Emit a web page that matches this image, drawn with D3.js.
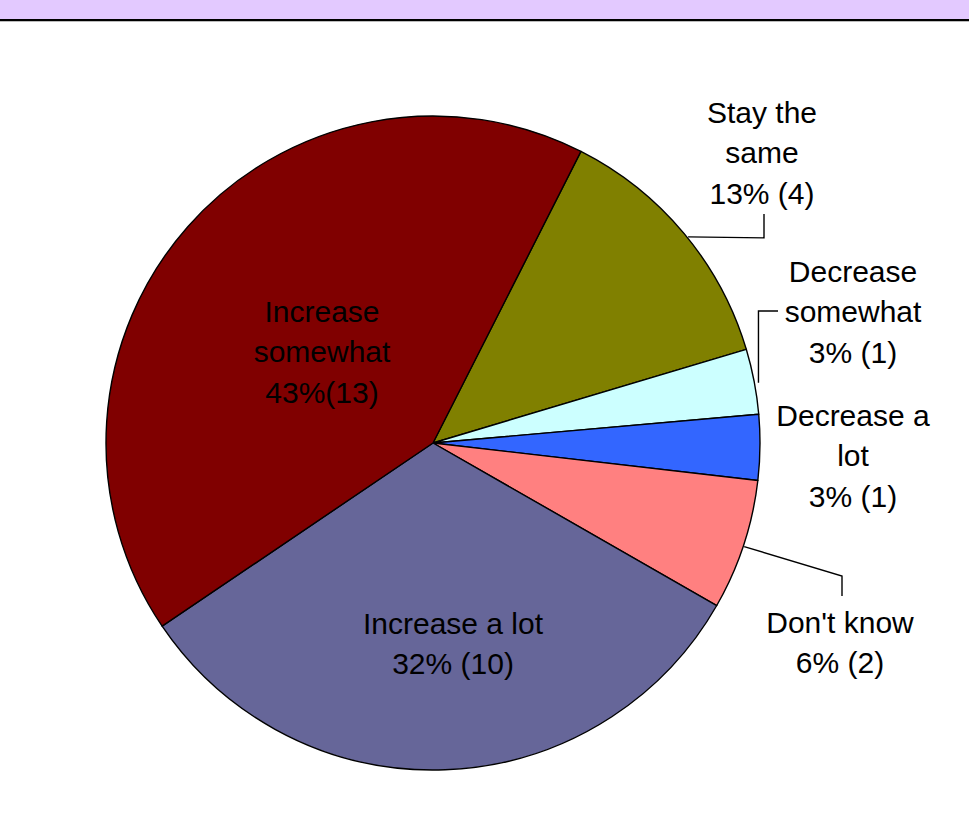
<!DOCTYPE html>
<html><head><meta charset="utf-8">
<script src="https://cdn.jsdelivr.net/npm/d3@7"></script>
<style>html,body{margin:0;padding:0;background:#fff;} svg{display:block;}</style>
</head><body>
<script>
// Data
const categories = ["Stay the same", "Decrease somewhat", "Decrease a lot", "Don't know", "Increase a lot", "Increase somewhat"];
const counts = [4, 1, 1, 2, 10, 13];
const pctLabels = ["13%", "3%", "3%", "6%", "32%", "43%"];
const labelLines = [
  ["Stay the", "same", "13% (4)"],
  ["Decrease", "somewhat", "3% (1)"],
  ["Decrease a", "lot", "3% (1)"],
  ["Don't know", "6% (2)"],
  ["Increase a lot", "32% (10)"],
  ["Increase", "somewhat", "43%(13)"]
];
const colors = ["#808000", "#CCFFFF", "#3366FF", "#FF8080", "#666699", "#800000"];

const W = 969, H = 832;
const cx = 433, cy = 443, R = 327;
const startDeg = 26.9;

const svg = d3.select("body").append("svg").attr("width", W).attr("height", H);

// header band
svg.append("rect").attr("x", 0).attr("y", 0).attr("width", W).attr("height", 19).attr("fill", "#E3C9FF");
svg.append("rect").attr("x", 0).attr("y", 19).attr("width", W).attr("height", 2).attr("fill", "#000");
svg.append("rect").attr("x", 0).attr("y", 21).attr("width", W).attr("height", 1).attr("fill", "#bbb");

const pie = d3.pie().sort(null).value(d => d)
  .startAngle(startDeg * Math.PI / 180)
  .endAngle(startDeg * Math.PI / 180 + 2 * Math.PI);
const arcs = pie(counts);
const arc = d3.arc().innerRadius(0).outerRadius(R);

const g = svg.append("g").attr("transform", `translate(${cx},${cy})`);
g.selectAll("path").data(arcs).enter().append("path")
  .attr("d", arc)
  .attr("fill", (d, i) => colors[i])
  .attr("stroke", "#000").attr("stroke-width", 1.4).attr("stroke-linejoin", "round");

// label layout (center of text block relative to pie center)
const labelPos = [
  {x: 329, y: -291},
  {x: 420, y: -132},
  {x: 420, y: 12},
  {x: 407, y: 199},
  {x: 20, y: 200},
  {x: -111, y: -92}
];
const lineH = 40.5;
const fontSize = 30;
labelLines.forEach((lines, i) => {
  const p = labelPos[i];
  const n = lines.length;
  const t = g.append("text")
    .attr("text-anchor", "middle")
    .attr("font-family", "Liberation Sans, Arial, sans-serif")
    .attr("font-size", fontSize)
    .attr("fill", "#000");
  lines.forEach((ln, k) => {
    t.append("tspan").attr("x", p.x)
      .attr("y", p.y + (k - (n - 1) / 2) * lineH + 11)
      .text(ln);
  });
});

// leader lines: from slice edge to label
function edgePoint(i, frac, r) {
  const a = arcs[i];
  const ang = a.startAngle + (a.endAngle - a.startAngle) * frac;
  return [r * Math.sin(ang), -r * Math.cos(ang)];
}
const leaders = [
  {i: 0, frac: 0.52, r: R + 1, pts: p => [p, [331, p[1] + 1], [331, -229]]},
  {i: 1, frac: 0.53, r: R + 4, pts: p => [p, [p[0], -132], [345, -132]]},
  {i: 3, frac: 0.51, r: R + 1, pts: p => [p, [409, 133], [409, 153]]}
];
leaders.forEach(L => {
  const p = edgePoint(L.i, L.frac, L.r);
  g.append("path").attr("d", d3.line()(L.pts(p)))
    .attr("fill", "none").attr("stroke", "#000").attr("stroke-width", 1.4);
});
</script>
</body></html>
